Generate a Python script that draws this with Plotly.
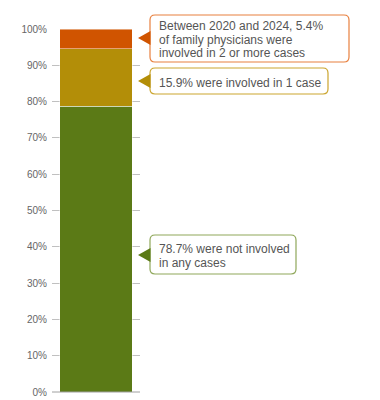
import plotly.graph_objects as go

# ---- data ----
categories = ["Family physicians"]
segment_names = ["Not involved in any cases", "Involved in 1 case", "Involved in 2 or more cases"]
segment_values = [78.7, 15.9, 5.4]
segment_colors = ["#5B7A16", "#B38E08", "#D05400"]
callout_lines = [
    ["78.7% were not involved", "in any cases"],
    ["15.9% were involved in 1 case"],
    ["Between 2020 and 2024, 5.4%", "of family physicians were", "involved in 2 or more cases"],
]
tick_vals = [0, 10, 20, 30, 40, 50, 60, 70, 80, 90, 100]
tick_text = [f"{v}%" for v in tick_vals]

# ---- layout geometry (pixels) ----
W, H = 380, 400
L, R, T, B = 52, 240, 29, 8
PW, PH = W - L - R, H - T - B
LINE_H = 13.5

def px(x):
    return (x - L) / PW

def py(y):
    return (H - B - y) / PH

fig = go.Figure()
for name, val, col in zip(segment_names, segment_values, segment_colors):
    fig.add_trace(go.Bar(
        x=[0], y=[val], name=name, width=1,
        marker=dict(color=col, line=dict(color="rgba(255,255,255,0.45)", width=1)),
        hoverinfo="skip",
    ))

# callouts: (box left, top, right, bottom, arrow y, border color, arrow color)
callouts = [
    (150, 235, 296, 274, 255, "#8FA75A", "#5B7A16"),
    (150, 68, 328, 94, 81, "#CBA52E", "#B38E08"),
    (150, 15, 349, 62, 38, "#E8803F", "#D05400"),
]

def rrect(x0, y0, x1, y1, r):
    pts = [
        ("M", (x0 + r, y0)), ("L", (x1 - r, y0)), ("Q", (x1, y0), (x1, y0 + r)),
        ("L", (x1, y1 - r)), ("Q", (x1, y1), (x1 - r, y1)),
        ("L", (x0 + r, y1)), ("Q", (x0, y1), (x0, y1 - r)),
        ("L", (x0, y0 + r)), ("Q", (x0, y0), (x0 + r, y0)),
    ]
    s = ""
    for p in pts:
        cmd = p[0]
        coords = " ".join(f"{px(a):.5f},{py(b):.5f}" for a, b in p[1:])
        s += f"{cmd} {coords} "
    return s + "Z"

shapes = []
annotations = []
for (x0, y0, x1, y1, ay, bcol, acol), lines in zip(callouts, callout_lines):
    shapes.append(dict(type="path", xref="paper", yref="paper", path=rrect(x0, y0, x1, y1, 5),
                       line=dict(color=bcol, width=1.2), fillcolor="white", layer="above"))
    tri = f"M {px(138):.5f},{py(ay):.5f} L {px(150.5):.5f},{py(ay-7):.5f} L {px(150.5):.5f},{py(ay+7):.5f} Z"
    shapes.append(dict(type="path", xref="paper", yref="paper", path=tri,
                       line=dict(width=0), fillcolor=acol, layer="above"))
    cy = (y0 + y1) / 2 + 1.5
    n = len(lines)
    for i, ln in enumerate(lines):
        yy = cy + (i - (n - 1) / 2) * LINE_H
        annotations.append(dict(xref="paper", yref="paper", x=px(x0 + 7), y=py(yy),
                                xanchor="left", yanchor="middle", align="left", showarrow=False,
                                text=ln, font=dict(family="Liberation Sans, Arial", size=12, color="#555555")))

fig.update_layout(
    width=W, height=H,
    margin=dict(l=L, r=R, t=T, b=B, pad=0),
    barmode="stack",
    showlegend=False,
    plot_bgcolor="white", paper_bgcolor="white",
    font=dict(family="Liberation Sans, Arial", size=10, color="#666666"),
    xaxis=dict(range=[-0.603, 0.603], showticklabels=False, showgrid=False, zeroline=False,
               showline=False, fixedrange=True, automargin=False),
    yaxis=dict(range=[0, 100], tickvals=tick_vals, ticktext=tick_text, showgrid=True,
               gridcolor="#C0C0C0", gridwidth=1, zeroline=False, showline=False,
               ticks="", ticklabelstandoff=4, tickfont=dict(size=10, color="#666666"),
               fixedrange=True, automargin=False),
    shapes=shapes + [dict(type="line", xref="paper", yref="paper", x0=0, x1=1, y0=0, y1=0,
                          line=dict(color="#A0A0A0", width=1), layer="above")],
    annotations=annotations,
)

fig.write_html("out.html", config={"displayModeBar": False},
               post_script="document.body.style.margin='0';document.body.style.padding='0';")
